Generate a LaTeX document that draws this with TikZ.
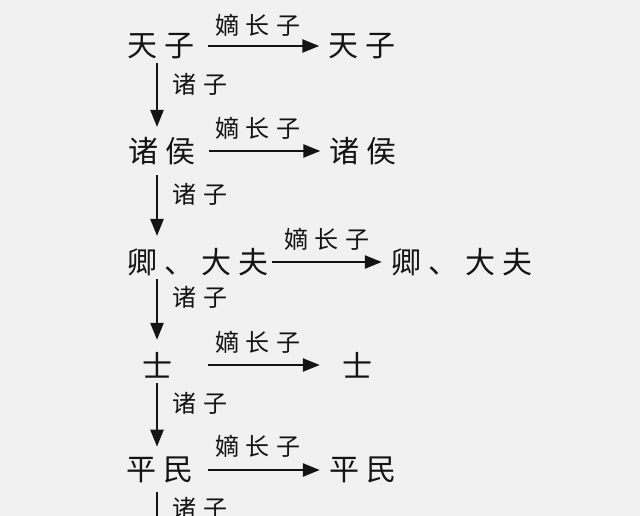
\documentclass[tikz,border=0pt]{standalone}
\usepackage{fontspec}
\newfontfamily\cjk{Noto Sans CJK SC}
\usetikzlibrary{arrows.meta}
\newcommand\mgap{\hspace{7pt}}
\newcommand\lgap{\hspace{7pt}}
\definecolor{bg}{RGB}{241,241,241}
\definecolor{ink}{RGB}{20,20,20}
\tikzset{
  main/.style={inner sep=0pt, font=\cjk\fontsize{30pt}{30pt}\selectfont, text=ink},
  lab/.style={inner sep=0pt, font=\cjk\fontsize{24pt}{24pt}\selectfont, text=ink},
  arr/.style={draw=ink, line width=2.4pt, -{Triangle[length=17pt,width=13pt]}}
}
\begin{document}
\begin{tikzpicture}[x=1pt,y=-1pt]
\fill[bg] (0,0) rectangle (640,516);
\useasboundingbox (0,0) rectangle (640,516);
% left column
\node[main] (L1) at (161,46) {天\mgap 子};
\node[main] (L2) at (162,151) {诸\mgap 侯};
\node[main] (L3) at (198,262) {卿\mgap 、\mgap 大\mgap 夫};
\node[main] (L4) at (157,365) {士};
\node[main] (L5) at (160,470) {平\mgap 民};
% right column
\node[main] (R1) at (362,46) {天\mgap 子};
\node[main] (R2) at (363,151) {诸\mgap 侯};
\node[main] (R3) at (462,262) {卿\mgap 、\mgap 大\mgap 夫};
\node[main] (R4) at (357,365) {士};
\node[main] (R5) at (363,470) {平\mgap 民};
% labels
\node[lab] (H1) at (258,25) {嫡\lgap 长\lgap 子};
\node[lab] (H2) at (258,128) {嫡\lgap 长\lgap 子};
\node[lab] (H3) at (327,239) {嫡\lgap 长\lgap 子};
\node[lab] (H4) at (258,342) {嫡\lgap 长\lgap 子};
\node[lab] (H5) at (258,446) {嫡\lgap 长\lgap 子};
\node[lab] (V1) at (200,84) {诸\lgap 子};
\node[lab] (V2) at (200,194) {诸\lgap 子};
\node[lab] (V3) at (200,297) {诸\lgap 子};
\node[lab] (V4) at (200,403) {诸\lgap 子};
\node[lab] (V5) at (200,508) {诸\lgap 子};
\coordinate (end) at (157,560);
% horizontal arrows
\draw[arr, shorten <=13.5pt, shorten >=9pt] (L1.east) -- (L1.east -| R1.west);
\draw[arr, shorten <=13.5pt, shorten >=9pt] (L2.east) -- (L2.east -| R2.west);
\draw[arr, shorten <=3.5pt, shorten >=9.5pt] (L3.east) -- (L3.east -| R3.west);
\draw[arr, shorten <=36pt, shorten >=22pt] (L4.east) -- (L4.east -| R4.west);
\draw[arr, shorten <=14.5pt, shorten >=9.5pt] (L5.east) -- (L5.east -| R5.west);
% vertical arrows
\draw[arr, shorten <=4pt, shorten >=10pt] (L1.south -| L4) -- (L2.north -| L4);
\draw[arr, shorten <=10pt, shorten >=12pt] (L2.south -| L4) -- (L3.north -| L4);
\draw[arr, shorten <=3pt, shorten >=12pt] (L3.south -| L4) -- (L4.north);
\draw[arr, shorten <=5pt, shorten >=10pt] (L4.south) -- (L5.north -| L4);
\draw[arr, shorten <=9pt] (L5.south -| L4) -- (end);
\end{tikzpicture}
\end{document}
